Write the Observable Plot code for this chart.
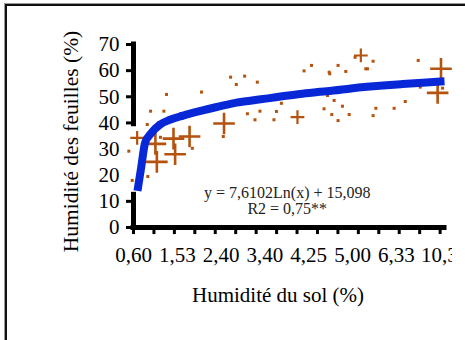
<!DOCTYPE html>
<html><head><meta charset="utf-8">
<script src="https://cdn.jsdelivr.net/npm/d3@7"></script>
<script src="https://cdn.jsdelivr.net/npm/@observablehq/plot@0.6"></script>
<style>
html,body{margin:0;padding:0;background:#fff;overflow:hidden;width:465px;height:340px}
#chart{position:absolute;left:0;top:0}
#frame{position:absolute;left:5px;top:4px;width:480px;height:360px;border-top:2px solid #111;border-left:2px solid #111;box-shadow:-1px -1px 0 #999;pointer-events:none}
</style></head><body>
<div id="chart"></div><div id="frame"></div>
<script>
// Category axis (soil moisture, sorted) — positions are category indices 1..214
const nCategories = 214;
const xTickLabels = ["0,60","1,53","2,40","3,40","4,25","5,00","6,33","10,33"];
const xLabelIdx = [1,31,61,91,121,151,181,214];
const xTickIdx = [1,15,29,43,57,71,85,99,113,127,141,155,169,183,197,211];
const yTickLabels = [0,10,20,30,40,50,60,70];
const yTickMarks = [0,10,40,50,60,70];
const yAxisSegments = [[0,12.5],[39.5,70]];

// Observed leaf moisture: large crosses
const bigIdx = [17, 29.5, 28.4, 39.4, 63, 16, 211.6, 209.3];
const bigVal = [25.1, 28.0, 34.0, 34.8, 39.8, 32.0, 60.7, 51.5];
// medium marks
const midIdx = [113.3, 156.7, 3.5];
const midVal = [42.2, 65.8, 34.3];
// small marks
const smallIdx = [12.7,21.8,10.4,18.4,-2.2,41.3,0.1,10.8,5.8,23.6,33.2,47.6,19.5,
  67.5,77.1,71.4,85.8,102.3,79,87.6,98.9,84.2,97.2,62.5,
  122.9,117.8,141.1,146.4,135.4,160.1,133.9,138.4,144.1,131.5,148.7,136.8,141.1,152.8,
  165.1,161.3,196,197.4,212.7,187.1,167,179.5,165.1,135];
const smallVal = [44.5,44.5,39.4,40.1,29.2,30.3,18.0,19.5,15.2,50.9,43.5,51.8,34.5,
  57.5,57.9,54.7,55.6,47.5,43.5,44.5,44.4,41.2,41.2,34.8,
  62.0,59.9,62.0,59.7,58.8,60.7,50.5,48.6,46.4,45.4,43.2,43.2,40.9,65.1,
  63.6,60.7,63.9,53.7,53.3,48.2,45.6,45.6,42.8,59.4];

// Trend curve
const curveIdx = [3.7,6,9,13,19,26,35,47,58,70,81,93,104,115,127,138,150,161,172,184,199,214];
const curveVal = [14,22,32.5,36,39.3,41.2,42.8,44.6,46.1,47.6,48.5,49.4,50.3,51.1,51.8,52.4,53.2,53.8,54.3,54.8,55.4,55.9];

const equation = "y = 7,6102Ln(x) + 15,098\nR2 = 0,75**";
const yTitle = "Humidité des feuilles (%)";
const xTitle = "Humidité du sol (%)";

const serif = "'Liberation Serif','Times New Roman',serif";
const brown = "#b4520e";
const blue = "#0828d8";

const big = bigIdx.map((x,i)=>({x, y: bigVal[i]}));
const mid = midIdx.map((x,i)=>({x, y: midVal[i]}));
const small = smallIdx.map((x,i)=>({x, y: smallVal[i]}));
const curve = curveIdx.map((x,i)=>({x, y: curveVal[i]}));
const xLabels = xLabelIdx.map((x,i)=>({x, label: xTickLabels[i]}));

const chart = Plot.plot({
  width: 452, height: 340,
  marginTop: 44, marginBottom: 113, marginLeft: 133, marginRight: 8,
  style: {background: "transparent"},
  x: {domain: [1, nCategories], axis: null},
  y: {domain: [0, 70], axis: null},
  marks: [
    Plot.dot(small, {x: "x", y: "y", symbol: "square", r: 1.7, fill: brown, stroke: "none"}),
    Plot.dot(mid, {x: "x", y: "y", symbol: "plus", r: 4.5, stroke: brown, strokeWidth: 2.2}),
    Plot.dot(big, {x: "x", y: "y", symbol: "plus", r: 7, stroke: brown, strokeWidth: 2.6}),
    Plot.line(curve, {x: "x", y: "y", curve: "monotone-x", stroke: blue, strokeWidth: 8, strokeLinejoin: "round", strokeLinecap: "butt"}),
    Plot.ruleY([0], {x1: 1, x2: nCategories, stroke: "#000", strokeWidth: 5, strokeLinecap: "square"}),
    Plot.ruleX(yAxisSegments, {x: 1, y1: d => d[0], y2: d => d[1], stroke: "#000", strokeWidth: 5, strokeLinecap: "square"}),
    Plot.ruleX(xTickIdx, {x: d => d, y1: 0, y2: -2.7, stroke: "#000", strokeWidth: 3}),
    Plot.ruleY(yTickMarks, {y: d => d, x1: -3.8, x2: 1, stroke: "#000", strokeWidth: 3}),
    Plot.text(yTickLabels, {x: 1, y: d => d, text: d => String(d), dx: -14, textAnchor: "end", lineAnchor: "middle", fontSize: 21, fontFamily: serif, fill: "#000"}),
    Plot.text(xLabels, {x: "x", y: 0, text: "label", dy: 28, lineAnchor: "middle", fontSize: 21, fontFamily: serif, fill: "#000"}),
    Plot.text([xTitle], {frameAnchor: "bottom", text: d => d, textAnchor: "middle", lineAnchor: "middle", dx: -11, dy: 68, fontSize: 21, fontFamily: serif, fill: "#000"}),
    Plot.text([yTitle], {frameAnchor: "left", text: d => d, textAnchor: "middle", lineAnchor: "middle", dx: -62.3, dy: 5.5, rotate: -90, fontSize: 21.5, fontFamily: serif, fill: "#000"}),
    Plot.text([equation], {x: 106.3, y: 10.2, text: d => d, fontSize: 16, lineHeight: 1, fontFamily: serif, fill: "#222"})
  ]
});
document.getElementById("chart").appendChild(chart);
</script>
</body></html>
